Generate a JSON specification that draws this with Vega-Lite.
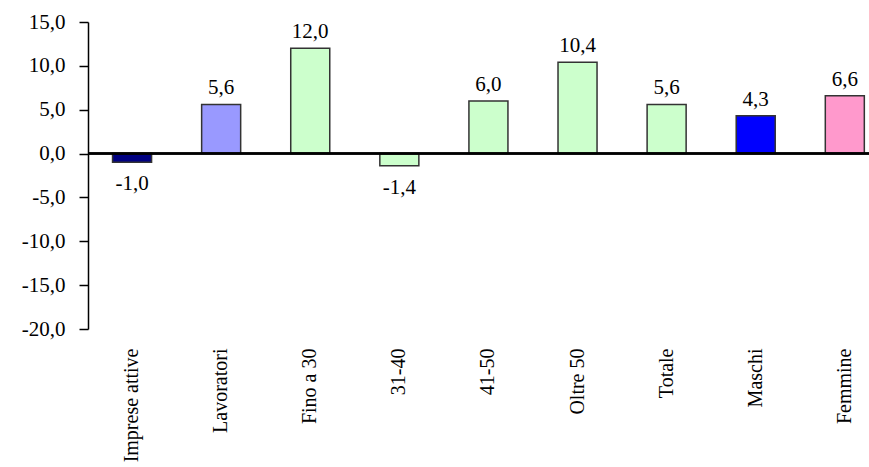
{
  "$schema": "https://vega.github.io/schema/vega-lite/v6.json",
  "autosize": {"type": "none"},
  "padding": {"left": 88, "top": 22, "right": 0, "bottom": 138},
  "width": 781,
  "height": 307,
  "config": {
    "locale": {"number": {"decimal": ",", "thousands": ".", "grouping": [3], "currency": ["", " €"], "minus": "-"}},
    "view": {"stroke": null},
    "font": "Liberation Serif"
  },
  "title": {
    "text": "(variazioni %)",
    "font": "Liberation Serif",
    "fontStyle": "italic",
    "fontWeight": "normal",
    "fontSize": 22,
    "color": "black",
    "anchor": "middle",
    "frame": "group",
    "baseline": "alphabetic",
    "offset": 0,
    "dx": -37
  },
  "data": {
    "values": [
      {"cat": "Imprese attive", "v": -1.0, "grp": "imprese"},
      {"cat": "Lavoratori", "v": 5.6, "grp": "lavoratori"},
      {"cat": "Fino a 30", "v": 12.0, "grp": "eta"},
      {"cat": "31-40", "v": -1.4, "grp": "eta"},
      {"cat": "41-50", "v": 6.0, "grp": "eta"},
      {"cat": "Oltre 50", "v": 10.4, "grp": "eta"},
      {"cat": "Totale", "v": 5.6, "grp": "eta"},
      {"cat": "Maschi", "v": 4.3, "grp": "maschi"},
      {"cat": "Femmine", "v": 6.6, "grp": "femmine"}
    ]
  },
  "encoding": {
    "x": {
      "field": "cat", "type": "nominal", "sort": null,
      "scale": {"paddingInner": 0.562, "paddingOuter": 0.164, "align": 0.84},
      "axis": {
        "title": null, "orient": "bottom", "domain": false, "ticks": false, "tickSize": 0,
        "labelAngle": -90, "labelPadding": 19, "labelFont": "Liberation Serif",
        "labelFontSize": 20, "labelColor": "black", "labelOverlap": false, "labelLimit": 300
      }
    },
    "y": {
      "field": "v", "type": "quantitative",
      "scale": {"domain": [-20, 15], "nice": false, "zero": false},
      "axis": {
        "title": null, "grid": false, "values": [-20, -15, -10, -5, 0, 5, 10, 15],
        "format": ".1f", "domainColor": "black", "domainWidth": 1.5,
        "tickColor": "black", "tickSize": 9, "tickWidth": 1.5, "labelPadding": 14,
        "labelFont": "Liberation Serif", "labelFontSize": 21, "labelColor": "black"
      }
    }
  },
  "layer": [
    {
      "mark": {"type": "bar", "stroke": "#333333", "strokeWidth": 1.5},
      "encoding": {
        "color": {
          "field": "grp", "type": "nominal", "legend": null,
          "scale": {
            "domain": ["imprese", "lavoratori", "eta", "maschi", "femmine"],
            "range": ["#000080", "#9999FF", "#CCFFCC", "#0000FF", "#FF99CC"]
          }
        }
      }
    },
    {
      "mark": {"type": "rule", "color": "black", "strokeWidth": 1.5},
      "encoding": {"y": {"datum": 0}, "x": null}
    },
    {
      "transform": [{"filter": "datum.v >= 0"}],
      "mark": {"type": "text", "baseline": "alphabetic", "dy": -10, "fontSize": 21, "font": "Liberation Serif", "color": "black"},
      "encoding": {"text": {"field": "v", "type": "quantitative", "format": ".1f"}}
    },
    {
      "transform": [{"filter": "datum.v < 0"}],
      "mark": {"type": "text", "baseline": "alphabetic", "dy": 28, "fontSize": 21, "font": "Liberation Serif", "color": "black"},
      "encoding": {"text": {"field": "v", "type": "quantitative", "format": ".1f"}}
    }
  ]
}
